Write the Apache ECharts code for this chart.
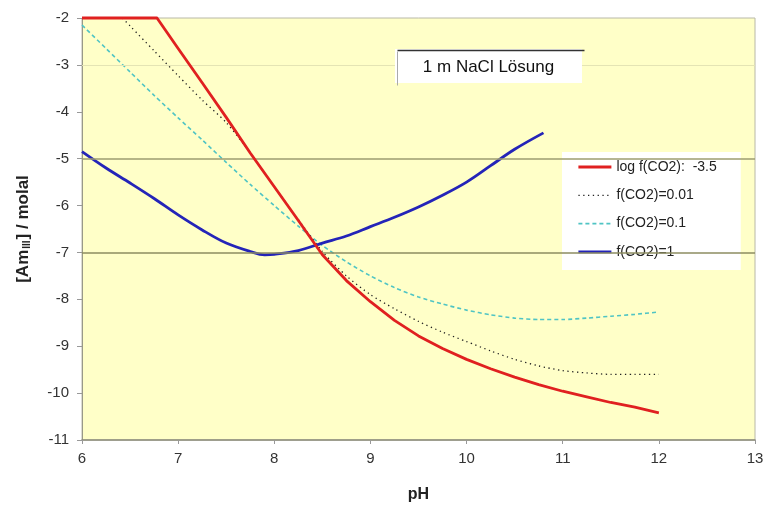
<!DOCTYPE html>
<html>
<head>
<meta charset="utf-8">
<script src="https://cdn.jsdelivr.net/npm/echarts@6/dist/echarts.min.js"></script>
<style>html,body{margin:0;padding:0;background:#fff;}#c{width:769px;height:506px;}</style>
</head>
<body>
<div id="c"></div>
<script>
// pH values and log [Am(III)] (molal) for each CO2 fugacity
var phRed = [6.0, 6.5, 6.78, 7.0, 7.25, 7.5, 7.75, 8.0, 8.25, 8.5, 8.75, 9.0, 9.25, 9.5, 9.75, 10.0, 10.25, 10.5, 10.75, 11.0, 11.25, 11.5, 11.75, 12.0];
var valRed = [-2, -2, -2, -2.65, -3.38, -4.12, -4.88, -5.6, -6.32, -7.05, -7.6, -8.05, -8.45, -8.78, -9.05, -9.28, -9.48, -9.66, -9.82, -9.96, -10.08, -10.2, -10.3, -10.42];

var phDot = [6.42, 6.5, 6.75, 7.0, 7.25, 7.5, 7.75, 8.0, 8.25, 8.5, 8.75, 9.0, 9.25, 9.5, 9.75, 10.0, 10.25, 10.5, 10.75, 11.0, 11.25, 11.5, 11.75, 12.0];
var valDot = [-2.0, -2.17, -2.7, -3.23, -3.75, -4.23, -4.88, -5.6, -6.3, -6.98, -7.5, -7.9, -8.2, -8.47, -8.7, -8.9, -9.1, -9.28, -9.42, -9.52, -9.57, -9.6, -9.6, -9.6];

var phCyan = [6.0, 6.25, 6.5, 6.75, 7.0, 7.25, 7.5, 7.75, 8.0, 8.25, 8.5, 8.75, 9.0, 9.25, 9.5, 9.75, 10.0, 10.25, 10.5, 10.75, 11.0, 11.25, 11.5, 11.75, 12.0];
var valCyan = [-2.15, -2.65, -3.15, -3.65, -4.13, -4.6, -5.08, -5.55, -6.0, -6.44, -6.85, -7.2, -7.5, -7.75, -7.95, -8.1, -8.23, -8.33, -8.4, -8.43, -8.43, -8.4, -8.36, -8.32, -8.27];

var phBlue = [6.0, 6.25, 6.5, 6.75, 7.0, 7.25, 7.5, 7.75, 7.9, 8.0, 8.25, 8.5, 8.75, 9.0, 9.25, 9.5, 9.75, 10.0, 10.25, 10.5, 10.8];
var valBlue = [-4.85, -5.2, -5.52, -5.85, -6.2, -6.52, -6.8, -6.98, -7.05, -7.04, -6.96, -6.8, -6.65, -6.45, -6.25, -6.03, -5.78, -5.5, -5.15, -4.8, -4.45];

var seriesNames = ['log f(CO2):  -3.5', 'f(CO2)=0.01', 'f(CO2)=0.1', 'f(CO2)=1'];
var gridLevels = [-3, -5, -7];
var titleText = '1 m NaCl Lösung';

function pairs(xs, ys) { return xs.map(function (x, i) { return [x, ys[i]]; }); }

var chart = echarts.init(document.getElementById('c'), null, { renderer: 'canvas' });
var FONT = 'Liberation Sans, Arial, sans-serif';

var styles = [
  { color: '#E02020', width: 2.8, type: 'solid' },
  { color: '#222222', width: 1.3, type: [1.3, 3.5] },
  { color: '#4FC4C4', width: 1.6, type: [4, 3] },
  { color: '#2424B8', width: 2.8, type: 'solid' }
];

chart.setOption({
  backgroundColor: '#ffffff',
  animation: false,
  grid: {
    left: 82, right: 14, top: 18, bottom: 66,
    containLabel: false, outerBoundsMode: 'none',
    show: true, backgroundColor: '#FFFFC8', borderColor: '#b8b8a8', borderWidth: 1
  },
  graphic: [
    { type: 'rect', left: 395, top: 49, z: 100, shape: { width: 187, height: 34 }, style: { fill: '#ffffff' } },
    { type: 'line', left: 395, top: 48, z: 101, shape: { x1: 0, y1: 0, x2: 187, y2: 0 }, style: { stroke: '#333', lineWidth: 1.5 } },
    { type: 'line', left: 395, top: 49, z: 101, shape: { x1: 0, y1: 0, x2: 0, y2: 34 }, style: { stroke: '#aaa', lineWidth: 1 } },
    { type: 'text', x: 488.5, y: 67, z: 102, style: { text: titleText, font: '17px ' + FONT, fill: '#111', align: 'center', verticalAlign: 'middle' } }
  ],
  legend: {
    data: seriesNames.map(function (n, i) {
      return { name: n, lineStyle: { color: styles[i].color, width: styles[i].width, type: styles[i].type, opacity: 1 } };
    }),
    orient: 'vertical',
    left: 562, top: 152,
    backgroundColor: '#ffffff',
    padding: [8, 24, 11, 15],
    itemWidth: 33, itemHeight: 14, itemGap: 14.3,
    itemStyle: { opacity: 0 },
    textStyle: { fontFamily: FONT, fontSize: 14, color: '#222' }
  },
  xAxis: {
    type: 'value', min: 6, max: 13, interval: 1,
    name: 'pH', nameLocation: 'middle', nameGap: 47,
    nameTextStyle: { fontFamily: FONT, fontSize: 16, fontWeight: 'bold', color: '#222' },
    axisLine: { show: true, onZero: false, lineStyle: { color: '#8a8a7a', width: 1.5 } },
    axisTick: { show: true, length: 4, lineStyle: { color: '#999' } },
    axisLabel: { margin: 11, fontFamily: FONT, fontSize: 15, color: '#333' },
    splitLine: { show: false }
  },
  yAxis: {
    type: 'value', min: -11, max: -2, interval: 1,
    name: '[Am{sub|III}] / molal', nameLocation: 'middle', nameGap: 50,
    nameTextStyle: {
      fontFamily: FONT, fontSize: 17, fontWeight: 'bold', color: '#222',
      rich: { sub: { fontFamily: FONT, fontSize: 10, fontWeight: 'bold', color: '#222', verticalAlign: 'bottom', padding: [8, 1, 0, 1] } }
    },
    axisLine: { show: true, onZero: false, lineStyle: { color: '#999988', width: 1 } },
    axisTick: { show: true, length: 5, lineStyle: { color: '#999' } },
    axisLabel: { margin: 13, fontFamily: FONT, fontSize: 15, color: '#333' },
    splitLine: { show: false }
  },
  series: [
    {
      name: 'grid', type: 'line', data: [], z: 1, silent: true,
      markLine: {
        silent: true, symbol: 'none', label: { show: false },
        data: [
          { yAxis: gridLevels[0], lineStyle: { color: '#e4e4b4', width: 1, type: 'solid' } },
          { yAxis: gridLevels[1], lineStyle: { color: '#9c9c70', width: 1.5, type: 'solid' } },
          { yAxis: gridLevels[2], lineStyle: { color: '#8c8c60', width: 1.5, type: 'solid' } }
        ]
      }
    },
    {
      name: seriesNames[0], type: 'line', data: pairs(phRed, valRed), symbol: 'none', clip: false, z: 5,
      lineStyle: { color: styles[0].color, width: styles[0].width, join: 'round' }, itemStyle: { color: styles[0].color }
    },
    {
      name: seriesNames[1], type: 'line', data: pairs(phDot, valDot), symbol: 'none', clip: false, z: 4,
      smooth: 0.25,
      lineStyle: { color: styles[1].color, width: styles[1].width, type: styles[1].type }, itemStyle: { color: styles[1].color }
    },
    {
      name: seriesNames[2], type: 'line', data: pairs(phCyan, valCyan), symbol: 'none', clip: false, z: 3,
      smooth: 0.25,
      lineStyle: { color: styles[2].color, width: styles[2].width, type: styles[2].type }, itemStyle: { color: styles[2].color }
    },
    {
      name: seriesNames[3], type: 'line', data: pairs(phBlue, valBlue), symbol: 'none', clip: false, z: 4,
      smooth: 0.35,
      lineStyle: { color: styles[3].color, width: styles[3].width, join: 'round' }, itemStyle: { color: styles[3].color }
    }
  ]
});
</script>
</body>
</html>
